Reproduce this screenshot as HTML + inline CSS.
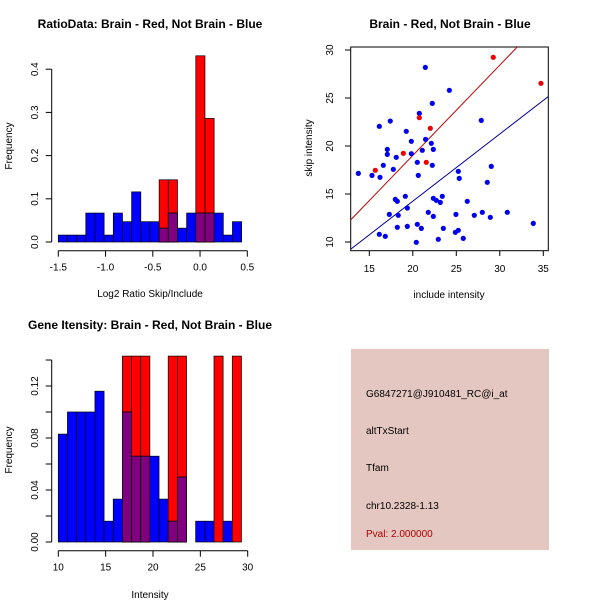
<!DOCTYPE html>
<html><head><meta charset="utf-8"><style>
body{margin:0;background:#fff}
svg{display:block;font-family:"Liberation Sans",sans-serif}
</style></head><body>
<svg id="s" width="600" height="600" viewBox="0 0 600 600">
<rect width="600" height="600" fill="#fff"/>
<text x="150" y="28" text-anchor="middle" font-size="12" font-weight="bold">RatioData: Brain - Red, Not Brain - Blue</text>
<text x="450" y="28" text-anchor="middle" font-size="12" font-weight="bold">Brain - Red, Not Brain - Blue</text>
<text x="150" y="329" text-anchor="middle" font-size="12" font-weight="bold">Gene Itensity: Brain - Red, Not Brain - Blue</text>
<text x="150" y="297" text-anchor="middle" font-size="10">Log2 Ratio Skip/Include</text>
<text transform="translate(12,146) rotate(-90)" text-anchor="middle" font-size="10">Frequency</text>
<text x="150" y="598" text-anchor="middle" font-size="10">Intensity</text>
<text transform="translate(12,450) rotate(-90)" text-anchor="middle" font-size="10">Frequency</text>
<text x="449" y="298" text-anchor="middle" font-size="10">include intensity</text>
<text transform="translate(312,148) rotate(-90)" text-anchor="middle" font-size="10">skip intensity</text>
<g id="g1"></g>
<g id="g2"></g>
<g id="g3"></g>
<g>
<rect x="351" y="349" width="198" height="201" fill="#e5c7c1"/>
<text x="366" y="397" font-size="10">G6847271@J910481_RC@i_at</text>
<text x="366" y="434" font-size="10">altTxStart</text>
<text x="366" y="471" font-size="10">Tfam</text>
<text x="366" y="509" font-size="10">chr10.2328-1.13</text>
<text x="366" y="537" font-size="10" fill="#b00000">Pval: 2.000000</text>
</g>
</svg>
<script>
// Ratio histogram data
const ratioBlue=[0.016,0.016,0.016,0.067,0.067,0.016,0.067,0.047,0.116,0.047,0.047,0.032,0.067,0.032,0.067,0.067,0.067,0.067,0.016,0.047];
const ratioRed=[0,0,0,0,0,0,0,0,0,0,0,0.144,0.144,0,0,0.431,0.286,0,0,0];
const ratioXTicks=["-1.5","-1.0","-0.5","0.0","0.5"];
const ratioYTicks=["0.0","0.1","0.2","0.3","0.4"];
// Intensity histogram data
const intBlue=[0.083,0.1,0.1,0.1,0.116,0.016,0.033,0.1,0.066,0.066,0.066,0.033,0.016,0.05,0,0.016,0.016,0,0.016,0];
const intRed=[0,0,0,0,0,0,0,0.143,0.143,0.143,0,0,0.143,0.143,0,0,0,0.143,0,0.143];
const intXTicks=["10","15","20","25","30"];
const intYTicks=["0.00","0.02","0.04","0.06","0.08","0.10","0.12","0.14"];
// Scatter data
const blueX=[13.74,15.31,16.23,16.15,17.41,17.07,17.07,16.61,17.76,18.10,19.25,19.83,19.83,20.75,21.44,22.24,24.20,21.47,21.09,22.13,22.36,20.52,22.24,20.63,17.99,18.22,19.14,19.37,17.30,18.33,18.22,19.37,20.52,20.98,16.15,16.84,20.40,21.78,22.36,22.36,22.70,23.16,23.39,23.51,22.93,24.96,24.89,25.23,25.80,26.26,25.23,25.34,27.07,27.99,28.91,28.56,29.02,27.87,30.86,33.85];
const blueY=[17.15,16.94,16.74,22.05,22.6,19.65,19.13,17.99,17.57,18.82,21.53,20.49,19.2,23.4,28.19,24.44,25.8,20.69,19.55,20.28,19.65,18.3,17.99,16.94,14.44,14.24,14.76,13.54,12.88,12.78,11.53,11.63,11.84,11.42,10.8,10.59,9.97,13.09,12.67,14.55,14.34,14.13,14.76,11.42,10.28,12.88,11.01,11.22,10.38,14.24,17.36,16.63,12.78,13.09,12.57,16.22,17.88,22.67,13.09,11.94];
const redX=[15.69,18.91,20.75,22.01,21.55,29.25,34.73];
const redY=[17.47,19.24,22.95,21.84,18.30,29.24,26.53];
const lineRed=[0.196,0.941]; // intercept, slope
const lineBlue=[0.25,0.7];
const scXTicks=[15,20,25,30,35];
const scYTicks=[10,15,20,25,30];

const NS="http://www.w3.org/2000/svg";
function el(p,t,a){const e=document.createElementNS(NS,t);for(const k in a)e.setAttribute(k,a[k]);p.appendChild(e);return e;}

function hist(g,blue,red,x0,bw,sx,y0,sy,xt,xtv,yt,ytv,ylab){
  const X=v=>58.3+(v-x0)*sx, Y=v=>y0-v*sy;
  for(let i=0;i<blue.length;i++){
    const a=X(x0+i*bw), b=X(x0+(i+1)*bw);
    const r=red[i], bl=blue[i];
    if(r>0){const e=el(g,'rect',{x:a,y:Y(r),width:b-a,height:r*sy,fill:'#ff0000',stroke:'#000','stroke-width':0.7});
      }
    if(bl>0){const e=el(g,'rect',{x:a,y:Y(bl),width:b-a,height:bl*sy,fill:'#0000ff',stroke:'#000','stroke-width':0.7});
      }
    const m=Math.min(r,bl);
    if(m>0){const e=el(g,'rect',{x:a,y:Y(m),width:b-a,height:m*sy,fill:'#800080',stroke:'#000','stroke-width':0.7});
      }
  }
  const ax=y0+8.7;
  el(g,'line',{x1:X(xtv[0]),x2:X(xtv[xtv.length-1]),y1:ax,y2:ax,stroke:'#000'});
  xt.forEach((t,i)=>{const x=X(xtv[i]);el(g,'line',{x1:x,x2:x,y1:ax,y2:ax+6,stroke:'#000'});
    const e=el(g,'text',{x:x,y:ax+20,'text-anchor':'middle','font-size':10});e.textContent=t;
    });
  const yx=51.7;
  el(g,'line',{x1:yx,x2:yx,y1:Y(ytv[0]),y2:Y(ytv[ytv.length-1]),stroke:'#000'});
  yt.forEach((t,i)=>{const y=Y(ytv[i]);el(g,'line',{x1:yx,x2:yx-6,y1:y,y2:y,stroke:'#000'});
    if(ylab(i)){const e=el(g,'text',{transform:`translate(38,${y}) rotate(-90)`,'text-anchor':'middle','font-size':10});e.textContent=t;
    }});
}
hist(document.getElementById('g1'),ratioBlue,ratioRed,-1.5,0.097,94.5,242,432,ratioXTicks,ratioXTicks.map(Number),ratioYTicks,ratioYTicks.map(Number),()=>true);
hist(document.getElementById('g3'),intBlue,intRed,10,0.967,9.47,542,1300,intXTicks,intXTicks.map(Number),intYTicks,intYTicks.map(Number),i=>i%2==0&&i<7);

// scatter
const g2=document.getElementById('g2');
const SX=v=>369.3+(v-15)*8.7, SY=v=>242-(v-10)*9.6;
el(g2,'rect',{x:350.7,y:47,width:197.6,height:203.7,fill:'none',stroke:'#000'});
scXTicks.forEach(v=>{el(g2,'line',{x1:SX(v),x2:SX(v),y1:250.7,y2:256,stroke:'#000'});
  const e=el(g2,'text',{x:SX(v),y:272,'text-anchor':'middle','font-size':10});e.textContent=v;
  });
scYTicks.forEach(v=>{el(g2,'line',{x1:350.7,x2:345,y1:SY(v),y2:SY(v),stroke:'#000'});
  const e=el(g2,'text',{transform:`translate(333,${SY(v)}) rotate(-90)`,'text-anchor':'middle','font-size':10});e.textContent=v;
  });
const cp=el(g2,'clipPath',{id:'cp'});el(cp,'rect',{x:350.7,y:47,width:197.6,height:203.7});
function fitLine(c,col,name){const xa=12,xb=37;
  const e=el(g2,'line',{x1:SX(xa),y1:SY(c[0]+c[1]*xa),x2:SX(xb),y2:SY(c[0]+c[1]*xb),stroke:col,'clip-path':'url(#cp)'});
  }
fitLine(lineRed,'#c00000','red-fit-line');
fitLine(lineBlue,'#000099','blue-fit-line');
blueX.forEach((x,i)=>{const e=el(g2,'circle',{cx:SX(x),cy:SY(blueY[i]),r:2.6,fill:'#0000ee'});
  });
redX.forEach((x,i)=>{const e=el(g2,'circle',{cx:SX(x),cy:SY(redY[i]),r:2.6,fill:'#ee0000'});
  });
</script>
</body></html>
